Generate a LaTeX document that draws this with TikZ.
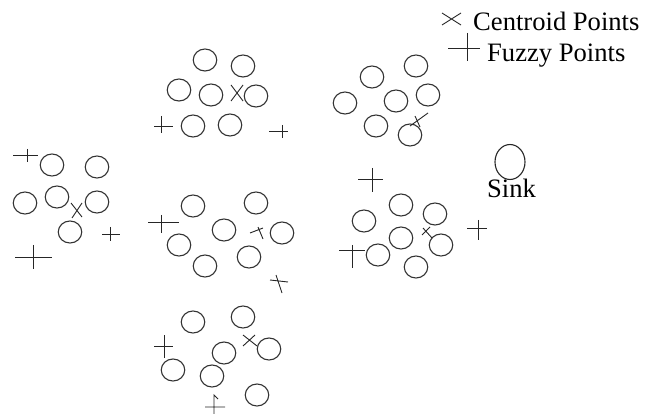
\documentclass[tikz,border=0pt]{standalone}
\usepackage{fontspec}
\setmainfont{Liberation Serif}
\usetikzlibrary{shapes.geometric}
\begin{document}
\begin{tikzpicture}[x=1pt,y=-1pt,
  sensor/.style={ellipse,draw=black!80,line width=1.1pt,minimum width=23.5pt,minimum height=22pt,inner sep=0pt},
  sinknode/.style={ellipse,draw=black!85,line width=1.1pt,minimum width=30pt,minimum height=35pt,inner sep=0pt},
  fuzzyline/.style={draw=black!85,line width=0.9pt},
  centroidline/.style={draw=black!85,line width=0.9pt},
  label/.style={inner sep=0pt,anchor=base west,font=\fontsize{26.6}{30}\selectfont}]
\useasboundingbox (0,0) rectangle (656,414);

% cluster A (top middle)
\node[sensor] (a1) at (205,60) {};
\node[sensor] (a2) at (243,66) {};
\node[sensor] (a3) at (179,90) {};
\node[sensor] (a4) at (211,95) {};
\node[sensor] (a5) at (256,96) {};
\node[sensor] (a6) at (193,126) {};
\node[sensor] (a7) at (230,125) {};
\draw[centroidline] (231,85) -- (243,101) (243,85) -- (231,101);
\draw[fuzzyline] (154,126) -- (173,126) (161,116) -- (161,133);
\draw[fuzzyline] (269,131) -- (288,131) (282,125) -- (282,138);

% cluster B (top right)
\node[sensor] (b1) at (416,66) {};
\node[sensor] (b2) at (372,77) {};
\node[sensor] (b3) at (345,103) {};
\node[sensor] (b4) at (396,101) {};
\node[sensor] (b5) at (428,95) {};
\node[sensor] (b6) at (376,126) {};
\node[sensor] (b7) at (410,135) {};
\draw[centroidline] (410,126) -- (428,113) (415,116) -- (420,127);

% cluster C (left)
\node[sensor] (c1) at (52,165) {};
\node[sensor] (c2) at (97,167) {};
\node[sensor] (c3) at (25,203) {};
\node[sensor] (c4) at (57,197) {};
\node[sensor] (c5) at (97,202) {};
\node[sensor] (c6) at (70,232) {};
\draw[centroidline] (71,203) -- (82,217) (82,203) -- (72,218);
\draw[fuzzyline] (13,155) -- (38,155) (27,149) -- (27,162);
\draw[fuzzyline] (102,234) -- (120,234) (110,227) -- (110,241);
\draw[fuzzyline] (15,257) -- (52,257) (33,245) -- (33,269);

% cluster D (centre)
\node[sensor] (d1) at (193,206) {};
\node[sensor] (d2) at (256,203) {};
\node[sensor] (d3) at (224,230) {};
\node[sensor] (d4) at (282,233) {};
\node[sensor] (d5) at (179,245) {};
\node[sensor] (d6) at (249,257) {};
\node[sensor] (d7) at (205,266) {};
\draw[centroidline] (250,233) -- (263,228) (258,227) -- (263,239);
\draw[centroidline] (270,280) -- (288,282) (276,275) -- (282,293);
\draw[fuzzyline] (148,222) -- (179,222) (161,215) -- (161,233);

% cluster E (right)
\node[sensor] (e1) at (401,205) {};
\node[sensor] (e2) at (435,214) {};
\node[sensor] (e3) at (364,221) {};
\node[sensor] (e4) at (401,238) {};
\node[sensor] (e5) at (441,245) {};
\node[sensor] (e6) at (378,255) {};
\node[sensor] (e7) at (416,267) {};
\draw[centroidline] (422,235) -- (430,227) (423,228) -- (432,238);
\draw[fuzzyline] (358,179) -- (383,179) (372,168) -- (372,192);
\draw[fuzzyline] (339,250) -- (365,250) (352,245) -- (352,268);
\draw[fuzzyline] (467,228) -- (487,228) (478,220) -- (478,240);

% cluster F (bottom)
\node[sensor] (f1) at (193,322) {};
\node[sensor] (f2) at (243,317) {};
\node[sensor] (f3) at (224,353) {};
\node[sensor] (f4) at (269,349) {};
\node[sensor] (f5) at (173,370) {};
\node[sensor] (f6) at (212,376) {};
\node[sensor] (f7) at (257,395) {};
\draw[centroidline] (243,335) -- (257,346) (243,346) -- (255,335);
\draw[fuzzyline] (154,346) -- (173,346) (164,335) -- (164,358);
\draw[fuzzyline] (205,407) -- (225,407) (214,414) -- (214,395) -- (218,399);

% sink
\node[sinknode] (sink) at (510,162) {};
\node[label] (sinktext) at (487,198) {Sink};

% legend
\draw[centroidline] (442,13) -- (461,25) (442,25) -- (461,13);
\node[label] (centroidtext) at (473,31) {Centroid Points};
\draw[fuzzyline] (448,48) -- (480,48) (467,33) -- (467,61);
\node[label] (fuzzytext) at (487,62) {Fuzzy Points};
\end{tikzpicture}
\end{document}
